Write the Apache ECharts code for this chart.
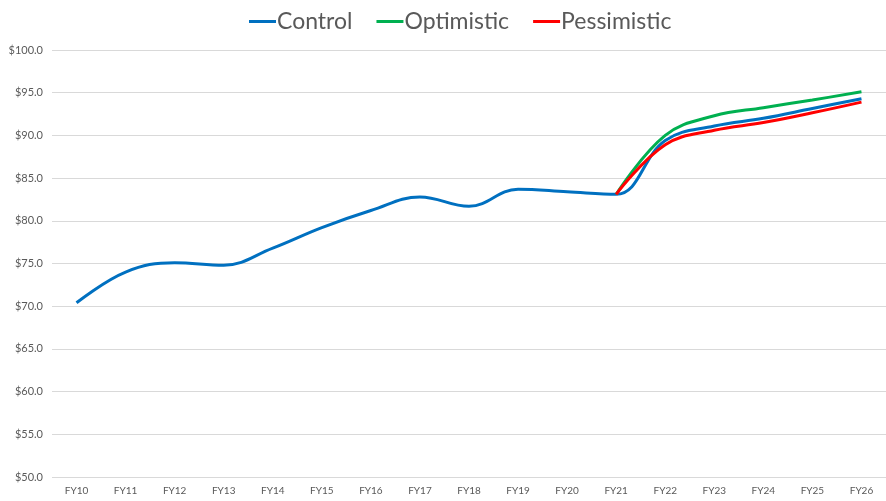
<!DOCTYPE html>
<html>
<head>
<meta charset="utf-8">
<script src="https://cdn.jsdelivr.net/npm/echarts@6/dist/echarts.min.js"></script>
<style>
html,body{margin:0;padding:0;background:#fff;}
#main{width:886px;height:501px;}
</style>
</head>
<body>
<div id="main"></div>
<script>
// categories and values
var years = ['FY10','FY11','FY12','FY13','FY14','FY15','FY16','FY17','FY18','FY19','FY20','FY21','FY22','FY23','FY24','FY25','FY26'];
var control = [70.4, 74.0, 75.1, 74.8, 76.8, 79.2, 81.2, 82.8, 81.7, 83.7, 83.4, 83.1, 89.4, 91.1, 92.0, 93.15, 94.3];
var optimistic = [null, null, null, null, null, null, null, null, null, null, null, 83.1, 90.0, 92.3, 93.25, 94.15, 95.1];
var pessimistic = [null, null, null, null, null, null, null, null, null, null, null, 83.1, 88.9, 90.6, 91.5, 92.65, 93.9];

var chart = echarts.init(document.getElementById('main'));
var font = 'Lato';

function line(name, data, color) {
	return {
		name: name,
		type: 'line',
		data: data,
		smooth: 0.4,
		showSymbol: false,
		symbol: 'none',
		connectNulls: false,
		lineStyle: {width: 3, color: color},
		itemStyle: {color: color}
	};
}

chart.setOption({
	animation: false,
	legend: {
		top: 5,
		left: 244,
		itemWidth: 27,
		itemHeight: 3,
		itemGap: 24,
		icon: 'rect',
		textStyle: {fontFamily: font, fontSize: 23, color: '#595959', padding: [0, 0, 0, -4]},
		data: ['Control', 'Optimistic', 'Pessimistic']
	},
	grid: {left: 52, top: 50, width: 843, bottom: 24},
	xAxis: {
		type: 'category',
		data: years,
		boundaryGap: true,
		axisLine: {show: false},
		axisTick: {show: false},
		axisLabel: {fontFamily: font, fontSize: 10, color: '#595959', margin: 9}
	},
	yAxis: {
		type: 'value',
		min: 50,
		max: 100,
		interval: 5,
		axisLine: {show: false},
		axisTick: {show: false},
		splitLine: {lineStyle: {color: '#D9D9D9', width: 1}},
		axisLabel: {
			fontFamily: font, fontSize: 11, color: '#595959', margin: 9,
			formatter: function (v) { return '$' + v.toFixed(1); }
		}
	},
	series: [
		line('Control', control, '#0070C0'),
		line('Optimistic', optimistic, '#00B050'),
		line('Pessimistic', pessimistic, '#FF0000')
	]
});
</script>
</body>
</html>
